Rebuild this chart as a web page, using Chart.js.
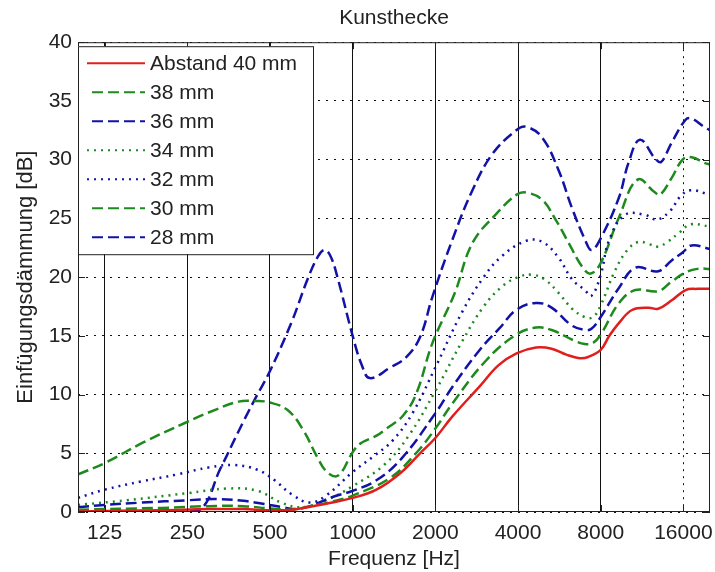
<!DOCTYPE html>
<html>
<head>
<meta charset="utf-8">
<script src="https://cdn.jsdelivr.net/npm/chart.js@4.4.0/dist/chart.umd.min.js"></script>
<style>
  html, body { margin: 0; padding: 0; background: #fff; }
</style>
</head>
<body>
<canvas id="chart" width="715" height="572"></canvas>
<script>
// tick labels of the log frequency axis
const xTicks = [125, 250, 500, 1000, 2000, 4000, 8000, 16000];

// Abstand 40 mm
const f40 = [100, 200, 300, 400, 500, 600, 700, 800, 1000, 1220, 1490, 1760, 2000, 2300, 2900, 3400, 3950, 4650, 5300, 6000, 6700, 7200, 8000, 8600, 9330, 10400, 11950, 12950, 14470, 16300, 18000, 20000];
const v40 = [0.05, 0.15, 0.25, 0.25, 0.15, 0.2, 0.45, 0.7, 1.2, 1.9, 3.3, 5.0, 6.3, 8.1, 10.7, 12.5, 13.5, 14.0, 13.9, 13.4, 13.1, 13.2, 13.8, 15.0, 16.1, 17.2, 17.4, 17.3, 18.0, 18.9, 19.0, 19.0];

// 38 mm
const f38 = [100, 200, 300, 400, 500, 600, 700, 850, 1000, 1370, 1700, 2000, 2300, 3060, 3940, 4650, 5300, 6400, 7000, 7500, 8000, 9330, 10700, 12950, 14470, 16300, 18000, 20000];
const v38 = [0.2, 0.35, 0.5, 0.5, 0.3, 0.2, 0.5, 0.9, 1.4, 2.9, 5.0, 7.1, 9.2, 12.9, 15.1, 15.7, 15.5, 14.6, 14.3, 14.4, 15.1, 17.8, 18.9, 18.8, 19.6, 20.4, 20.7, 20.7];

// 36 mm
const f36 = [100, 125, 170, 250, 320, 400, 470, 560, 620, 700, 850, 1000, 1220, 1500, 2000, 2300, 2900, 3440, 3940, 4650, 5300, 6260, 7000, 7400, 8000, 9330, 10700, 12950, 14470, 15900, 17150, 20000];
const v36 = [0.4, 0.6, 0.8, 1.0, 1.1, 0.95, 0.7, 0.4, 0.25, 0.5, 1.3, 1.8, 2.7, 4.5, 8.4, 10.6, 13.8, 15.7, 17.2, 17.8, 17.4, 15.9, 15.5, 15.6, 16.6, 19.1, 20.8, 20.5, 21.4, 22.1, 22.7, 22.4];

// 34 mm
const f34 = [100, 150, 250, 350, 450, 550, 650, 800, 1000, 1300, 1600, 2000, 2500, 3000, 3500, 4000, 4500, 5000, 5600, 6300, 7000, 7500, 8000, 9000, 10000, 11000, 12000, 13000, 14000, 15500, 17000, 20000];
const v34 = [0.6, 1.0, 1.6, 2.0, 1.8, 0.8, 0.4, 1.0, 2.2, 4.0, 6.5, 10.3, 14.5, 17.5, 19.2, 20.0, 20.2, 19.8, 18.7, 17.3, 16.6, 16.6, 17.6, 20.5, 22.3, 23.0, 22.8, 22.6, 23.0, 23.8, 24.5, 24.3];

// 32 mm
const f32 = [100, 125, 170, 230, 300, 370, 450, 520, 600, 700, 800, 1000, 1200, 1400, 1650, 2000, 2500, 3000, 3500, 4300, 4900, 5600, 6300, 7000, 7400, 8000, 8600, 9800, 11600, 12800, 14400, 15500, 17000, 20000];
const v32 = [1.2, 1.9, 2.6, 3.2, 3.8, 4.0, 3.6, 2.7, 1.5, 0.8, 1.4, 3.4, 4.8, 6.1, 8.4, 12.3, 17.0, 20.0, 21.8, 23.1, 23.0, 21.7, 19.8, 18.9, 18.4, 20.2, 23.2, 25.3, 25.3, 24.9, 25.7, 26.8, 27.4, 27.0];

// 30 mm
const f30 = [100, 126, 172, 246, 316, 384, 442, 494, 578, 660, 742, 807, 885, 995, 1062, 1222, 1327, 1524, 1706, 1953, 2350, 2730, 3340, 3943, 4276, 4887, 5480, 6120, 6840, 7350, 8000, 9330, 10900, 12620, 13170, 14470, 15900, 17150, 19200, 20000];
const v30 = [3.2, 4.2, 5.9, 7.6, 8.7, 9.4, 9.45, 9.35, 8.7, 7.0, 4.7, 3.4, 3.1, 5.0, 5.8, 6.5, 7.1, 8.2, 10.1, 14.4, 18.6, 22.9, 25.4, 27.0, 27.2, 26.6, 24.9, 22.9, 20.9, 20.3, 21.2, 25.1, 28.3, 27.2, 27.0, 28.4, 30.0, 30.2, 29.7, 29.6];

// 28 mm
const f28 = [100, 200, 275, 330, 400, 450, 500, 600, 690, 750, 790, 830, 880, 1000, 1080, 1155, 1370, 1570, 1760, 1950, 2300, 2730, 3230, 3940, 4280, 4890, 5620, 6260, 7040, 7410, 8000, 9330, 10090, 11110, 12620, 13270, 14470, 16300, 17150, 19000, 20000];
const v28 = [0, 0, 0.1, 3.7, 7.7, 10, 12, 16.2, 20, 21.8, 22.3, 21.8, 20, 15, 12.5, 11.4, 12.3, 13.2, 14.9, 18.3, 23.1, 27.4, 30.5, 32.5, 32.8, 31.9, 29.1, 26.0, 23.1, 22.3, 23.3, 26.8, 29.7, 31.7, 30.1, 29.8, 31.4, 33.4, 33.5, 32.8, 32.5];

const RED = "#e01f1c";
const GREEN = "#1e8a1e";
const BLUE = "#1212a6";
const TEXT = "#222";
const DASH = [11, 5];
const DOT = [2, 5];

Chart.defaults.font.family = '"Liberation Sans", Arial, sans-serif';
Chart.defaults.color = TEXT;

const series = (label, freqs, vals, color, dash) => ({
  label: label,
  data: freqs.map((f, i) => ({ x: f, y: vals[i] })),
  borderColor: color,
  borderWidth: 2.5,
  borderDash: dash,
  pointRadius: 0,
  tension: 0.4,
  fill: false,
});

const datasets = [
  series("Abstand 40 mm", f40, v40, RED, []),
  series("38 mm", f38, v38, GREEN, DASH),
  series("36 mm", f36, v36, BLUE, DASH),
  series("34 mm", f34, v34, GREEN, DOT),
  series("32 mm", f32, v32, BLUE, DOT),
  series("30 mm", f30, v30, GREEN, DASH),
  series("28 mm", f28, v28, BLUE, DASH),
];

// box frame, inner ticks and the legend drawn inside the axes
const boxPlugin = {
  id: "boxPlugin",
  afterDatasetsDraw: (chart) => {
    const { ctx, chartArea: a, scales } = chart;
    ctx.save();
    ctx.strokeStyle = "#222";
    ctx.lineWidth = 1;
    ctx.setLineDash([]);
    ctx.strokeRect(a.left + 0.5, a.top + 0.5, a.right - a.left - 1, a.bottom - a.top - 1);
    ctx.beginPath();
    scales.y.ticks.forEach((t) => {
      const y = Math.round(scales.y.getPixelForValue(t.value)) + 0.5;
      ctx.moveTo(a.left, y);
      ctx.lineTo(a.left + 7, y);
      ctx.moveTo(a.right, y);
      ctx.lineTo(a.right - 7, y);
    });
    scales.x.ticks.forEach((t) => {
      const x = Math.round(scales.x.getPixelForValue(t.value)) + 0.5;
      ctx.moveTo(x, a.top);
      ctx.lineTo(x, a.top + 7);
      ctx.moveTo(x, a.bottom);
      ctx.lineTo(x, a.bottom - 7);
    });
    ctx.stroke();

    // legend
    const x0 = a.left;
    const y0 = a.top + 4;
    const w = 235;
    const h = 208;
    ctx.fillStyle = "#fff";
    ctx.fillRect(x0, y0, w, h);
    ctx.strokeRect(x0 + 0.5, y0 + 0.5, w, h);
    ctx.font = '21px "Liberation Sans", Arial, sans-serif';
    ctx.textBaseline = "middle";
    chart.data.datasets.forEach((ds, i) => {
      const y = y0 + 17 + i * 29;
      ctx.strokeStyle = ds.borderColor;
      ctx.lineWidth = 2;
      ctx.setLineDash(ds.borderDash);
      ctx.lineDashOffset = ds.borderDash.length && ds.borderDash[0] > 5 ? 11 : 0;
      ctx.beginPath();
      ctx.moveTo(x0 + 9, y);
      ctx.lineTo(x0 + 67, y);
      ctx.stroke();
      ctx.setLineDash([]);
      ctx.lineDashOffset = 0;
      ctx.fillStyle = TEXT;
      ctx.fillText(ds.label, x0 + 72, y + 1);
    });
    ctx.restore();
  },
};

new Chart(document.getElementById("chart").getContext("2d"), {
  type: "line",
  data: { datasets },
  options: {
    responsive: false,
    animation: false,
    layout: { padding: { right: 5 } },
    plugins: {
      legend: { display: false },
      tooltip: { enabled: false },
      title: {
        display: true,
        text: "Kunsthecke",
        fullSize: false,
        color: TEXT,
        font: { size: 21, weight: "normal" },
        padding: { top: 6, bottom: 11 },
      },
    },
    scales: {
      x: {
        type: "logarithmic",
        min: 100,
        max: 20000,
        afterBuildTicks: (scale) => {
          scale.ticks = xTicks.map((v) => ({ value: v }));
        },
        afterFit: (scale) => {
          scale.height = 60;
          scale.paddingLeft = 0;
          scale.paddingRight = 0;
        },
        ticks: {
          autoSkip: false,
          maxRotation: 0,
          padding: 9,
          font: { size: 21 },
          color: TEXT,
          callback: (v) => String(v),
        },
        grid: { color: "#111", lineWidth: 1, drawTicks: false },
        border: {
          display: false,
          dash: (ctx) => (ctx.tick && ctx.tick.value === 16000 ? [2, 5] : []),
        },
        title: {
          display: true,
          text: "Frequenz [Hz]",
          color: TEXT,
          font: { size: 21 },
          padding: { top: 0, bottom: 0 },
        },
      },
      y: {
        min: 0,
        max: 40,
        afterFit: (scale) => {
          scale.width = 78;
        },
        ticks: { stepSize: 5, padding: 6, font: { size: 21 }, color: TEXT },
        grid: { color: "#111", lineWidth: 1, drawTicks: false },
        border: { display: false, dash: [2, 6] },
        title: {
          display: true,
          text: "Einfügungsdämmung [dB]",
          color: TEXT,
          font: { size: 22 },
          padding: { top: 13, bottom: 0 },
        },
      },
    },
  },
  plugins: [boxPlugin],
});
</script>
</body>
</html>
